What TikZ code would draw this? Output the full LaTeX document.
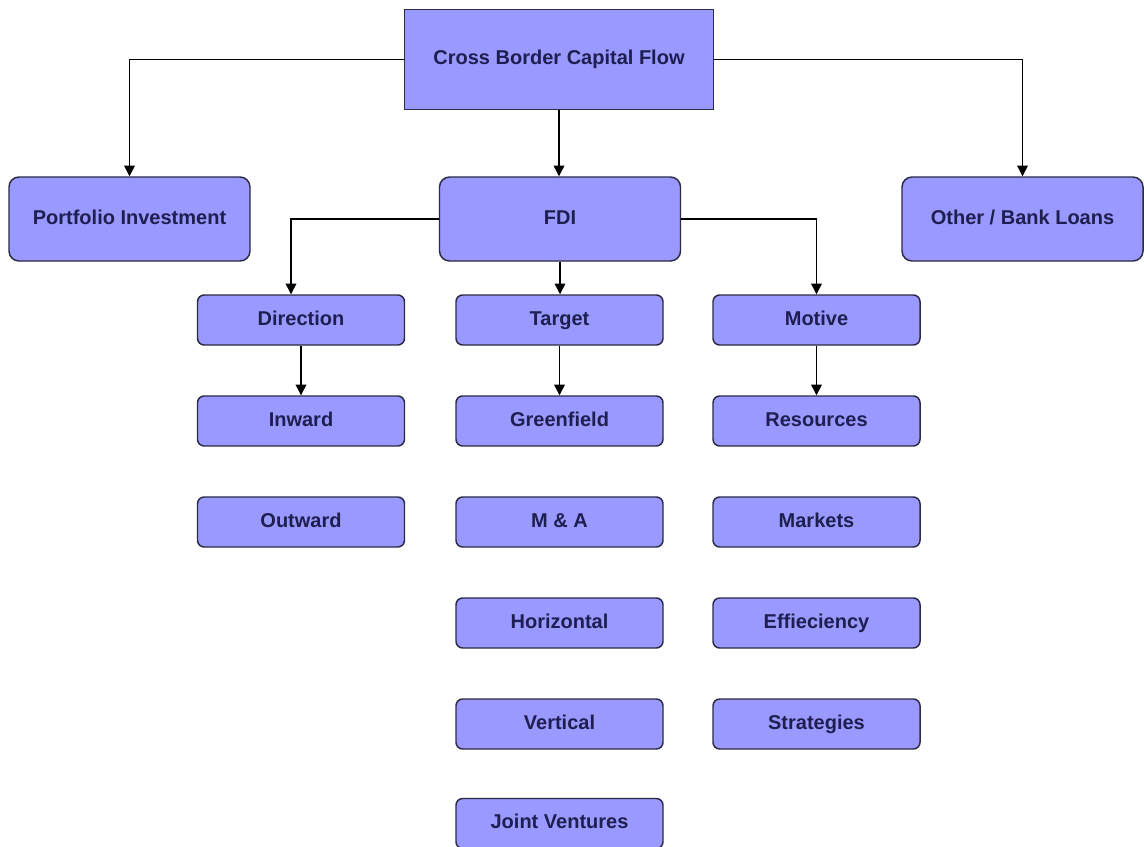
\documentclass[tikz,border=0pt]{standalone}
\usepackage{fontspec}
\setmainfont{Liberation Sans}
\usetikzlibrary{arrows.meta,calc}
\definecolor{boxfill}{HTML}{9999FF}
\definecolor{boxline}{HTML}{2B2B45}
\definecolor{txtcol}{HTML}{1E1E50}
\begin{document}
\begin{tikzpicture}[x=0.75pt,y=-0.75pt,
  base/.style={draw=boxline, fill=boxfill, line width=1.1pt, text=txtcol,
    font=\fontsize{15}{18}\selectfont\bfseries, inner sep=0pt, align=center,
    text height=10.8pt, text depth=3pt},
  topbox/.style={base, rectangle, minimum width=231.75pt, minimum height=75pt},
  bigbox/.style={base, rounded corners=7.5pt, minimum width=180.75pt, minimum height=63pt},
  smallbox/.style={base, rounded corners=5pt, minimum width=155.25pt, minimum height=37.5pt},
  arr/.style={draw=black, line width=1.05pt, -{Triangle[width=8pt,length=8pt]}}]
\useasboundingbox[fill=white] (0,0) rectangle (1144,846);

\node[topbox] (cbcf) at (559,59.5) {Cross Border Capital Flow};
\node[bigbox] (port) at (129.5,219) {Portfolio Investment};
\node[bigbox] (fdi) at (560,219) {FDI};
\node[bigbox] (other) at (1022.5,219) {Other / Bank Loans};

\node[smallbox] (dir) at (301,320) {Direction};
\node[smallbox] (tgt) at (559.5,320) {Target};
\node[smallbox] (mot) at (816.5,320) {Motive};

\node[smallbox] (inw) at (301,421) {Inward};
\node[smallbox] (outw) at (301,522) {Outward};

\node[smallbox] (green) at (559.5,421) {Greenfield};
\node[smallbox] (ma) at (559.5,522) {M \& A};
\node[smallbox] (hor) at (559.5,623) {Horizontal};
\node[smallbox] (ver) at (559.5,724) {Vertical};
\node[smallbox] (jv) at (559.5,823.5) {Joint Ventures};

\node[smallbox] (res) at (816.5,421) {Resources};
\node[smallbox] (mkt) at (816.5,522) {Markets};
\node[smallbox] (eff) at (816.5,623) {Effieciency};
\node[smallbox] (strat) at (816.5,724) {Strategies};

\draw[arr] (cbcf.west) -| (port.north);
\draw[arr] (cbcf.south) -- (cbcf.south |- fdi.north);
\draw[arr] (cbcf.east) -| (other.north);
\draw[arr] (fdi.west) -| ($(dir.north)+(-10,0)$);
\draw[arr] (fdi.south) -- (fdi.south |- tgt.north);
\draw[arr] (fdi.east) -| (mot.north);
\draw[arr] (dir.south) -- (inw.north);
\draw[arr] (tgt.south) -- (green.north);
\draw[arr] (mot.south) -- (res.north);
\end{tikzpicture}
\end{document}
